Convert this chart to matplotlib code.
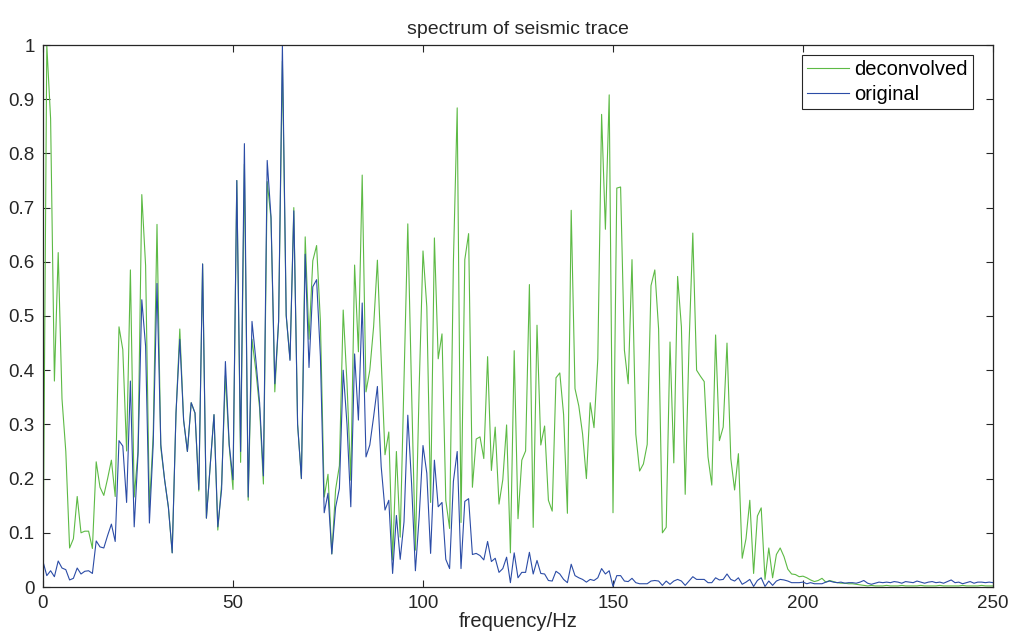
import numpy as np
import matplotlib.pyplot as plt

plt.rcParams["font.family"] = ["Liberation Sans", "DejaVu Sans"]

# amplitude spectra, 1 Hz bins from 0 to 250 Hz
freq_step = 1.0
deconvolved = [
    0.02, 1.0, 0.864, 0.38, 0.617, 0.347, 0.25, 0.072, 0.089, 0.167,
    0.10, 0.103, 0.103, 0.071, 0.231, 0.184, 0.169, 0.20, 0.234, 0.167,
    0.48, 0.438, 0.251, 0.585, 0.166, 0.25, 0.724, 0.593, 0.147, 0.28,
    0.669, 0.257, 0.198, 0.147, 0.063, 0.32, 0.476, 0.308, 0.25, 0.34,
    0.321, 0.177, 0.596, 0.127, 0.224, 0.318, 0.105, 0.19, 0.39, 0.26,
    0.18, 0.75, 0.23, 0.78, 0.16, 0.457, 0.40, 0.33, 0.19, 0.748,
    0.68, 0.36, 0.49, 0.97, 0.50, 0.42, 0.70, 0.30, 0.20, 0.646,
    0.457, 0.602, 0.63, 0.49, 0.166, 0.208, 0.061, 0.18, 0.224, 0.511,
    0.376, 0.197, 0.594, 0.434, 0.76, 0.36, 0.40, 0.48, 0.603, 0.42,
    0.244, 0.286, 0.05, 0.25, 0.092, 0.38, 0.67, 0.36, 0.068, 0.37,
    0.62, 0.517, 0.156, 0.644, 0.421, 0.467, 0.16, 0.108, 0.60, 0.884,
    0.119, 0.604, 0.652, 0.184, 0.273, 0.277, 0.237, 0.425, 0.215, 0.295,
    0.153, 0.198, 0.299, 0.063, 0.436, 0.126, 0.234, 0.251, 0.558, 0.110,
    0.483, 0.262, 0.297, 0.16, 0.14, 0.386, 0.395, 0.318, 0.136, 0.695,
    0.366, 0.334, 0.282, 0.20, 0.34, 0.294, 0.421, 0.872, 0.66, 0.908,
    0.137, 0.736, 0.738, 0.437, 0.375, 0.604, 0.282, 0.214, 0.227, 0.263,
    0.556, 0.585, 0.476, 0.100, 0.110, 0.452, 0.229, 0.573, 0.48, 0.171,
    0.444, 0.653, 0.40, 0.389, 0.379, 0.24, 0.188, 0.465, 0.27, 0.295,
    0.45, 0.237, 0.179, 0.246, 0.053, 0.089, 0.16, 0.025, 0.131, 0.146,
    0.014, 0.072, 0.017, 0.06, 0.072, 0.056, 0.033, 0.024, 0.023, 0.019,
    0.02, 0.017, 0.013, 0.01, 0.012, 0.016, 0.009, 0.012, 0.01, 0.008,
    0.007, 0.007, 0.006, 0.006, 0.005, 0.004, 0.003, 0.002, 0.003, 0.002,
    0.002, 0.002, 0.003, 0.002, 0.002, 0.002, 0.003, 0.002, 0.002, 0.002,
    0.002, 0.003, 0.002, 0.002, 0.002, 0.002, 0.003, 0.002, 0.002, 0.002,
    0.002, 0.002, 0.003, 0.002, 0.002, 0.002, 0.002, 0.003, 0.002, 0.002,
    0.002,
]
original = [
    0.047, 0.021, 0.03, 0.019, 0.048, 0.035, 0.032, 0.013, 0.016, 0.035,
    0.024, 0.029, 0.03, 0.025, 0.085, 0.074, 0.072, 0.095, 0.116, 0.084,
    0.27, 0.26, 0.156, 0.38, 0.111, 0.244, 0.53, 0.444, 0.118, 0.263,
    0.56, 0.263, 0.198, 0.147, 0.063, 0.321, 0.457, 0.308, 0.25, 0.34,
    0.321, 0.18, 0.596, 0.127, 0.224, 0.318, 0.111, 0.18, 0.416, 0.263,
    0.198, 0.75, 0.25, 0.818, 0.166, 0.49, 0.42, 0.34, 0.205, 0.787,
    0.683, 0.375, 0.49, 1.0, 0.502, 0.418, 0.694, 0.30, 0.20, 0.614,
    0.405, 0.554, 0.567, 0.425, 0.137, 0.173, 0.061, 0.147, 0.182, 0.40,
    0.30, 0.148, 0.43, 0.308, 0.524, 0.24, 0.262, 0.314, 0.37, 0.222,
    0.142, 0.16, 0.025, 0.132, 0.051, 0.12, 0.317, 0.19, 0.03, 0.13,
    0.261, 0.21, 0.062, 0.234, 0.148, 0.156, 0.051, 0.034, 0.195, 0.25,
    0.034, 0.158, 0.163, 0.06, 0.062, 0.058, 0.05, 0.084, 0.047, 0.053,
    0.027, 0.034, 0.055, 0.008, 0.063, 0.017, 0.027, 0.027, 0.064, 0.024,
    0.049, 0.025, 0.024, 0.012, 0.011, 0.029, 0.024, 0.014, 0.008, 0.042,
    0.021, 0.017, 0.014, 0.009, 0.014, 0.012, 0.017, 0.034, 0.024, 0.03,
    0.001, 0.021, 0.021, 0.011, 0.010, 0.016, 0.008, 0.006, 0.006, 0.006,
    0.011, 0.012, 0.011, 0.003, 0.011, 0.005, 0.011, 0.014, 0.011, 0.003,
    0.011, 0.019, 0.014, 0.014, 0.014, 0.008, 0.008, 0.017, 0.013, 0.014,
    0.024, 0.014, 0.011, 0.017, 0.005, 0.009, 0.014, 0.001, 0.012, 0.017,
    0.001, 0.011, 0.003, 0.011, 0.014, 0.013, 0.011, 0.008, 0.008, 0.008,
    0.009, 0.006, 0.008, 0.006, 0.006, 0.006, 0.009, 0.011, 0.009, 0.008,
    0.009, 0.007, 0.008, 0.008, 0.007, 0.009, 0.012, 0.007, 0.005, 0.007,
    0.009, 0.008, 0.009, 0.008, 0.01, 0.009, 0.007, 0.01, 0.009, 0.008,
    0.011, 0.009, 0.007, 0.009, 0.01, 0.008, 0.009, 0.007, 0.01, 0.013,
    0.008, 0.009, 0.006, 0.008, 0.01, 0.007, 0.009, 0.009, 0.008, 0.009,
    0.008,
]
x_ticks = [0, 50, 100, 150, 200, 250]
y_ticks = [0, 0.1, 0.2, 0.3, 0.4, 0.5, 0.6, 0.7, 0.8, 0.9, 1]
y_tick_labels = ["0", "0.1", "0.2", "0.3", "0.4", "0.5", "0.6", "0.7", "0.8", "0.9", "1"]

freq = np.arange(len(original)) * freq_step

fig = plt.figure(figsize=(10.10, 6.37), dpi=100)
ax = fig.add_axes([43 / 1010, 1 - 587 / 637, 950 / 1010, 542 / 637])

ax.plot(freq, deconvolved, color="#5dba45", lw=0.8, label="deconvolved")
ax.plot(freq, original, color="#2b4ca6", lw=0.8, label="original")

ax.set_xlim(0, 250)
ax.set_ylim(0, 1)
ax.set_xticks(x_ticks)
ax.set_yticks(y_ticks)
ax.set_yticklabels(y_tick_labels)
ax.tick_params(direction="in", top=True, right=True, length=5, width=0.8,
               labelsize=13.5, colors="#262626", pad=6)
for sp in ax.spines.values():
    sp.set_linewidth(0.9)
    sp.set_color("#262626")

ax.set_title("spectrum of seismic trace", fontsize=14, color="#262626", pad=8)
ax.set_xlabel("frequency/Hz", fontsize=14.5, color="#262626", labelpad=0)

leg = ax.legend(loc="upper right", bbox_to_anchor=(0.979, 0.9815), borderaxespad=0,
                fancybox=False, edgecolor="#262626", framealpha=1, fontsize=14.5,
                handlelength=2.1, handletextpad=0.25, borderpad=0.25, labelspacing=0.3)
leg.get_frame().set_linewidth(0.8)

fig.savefig("out.png", dpi=100)
